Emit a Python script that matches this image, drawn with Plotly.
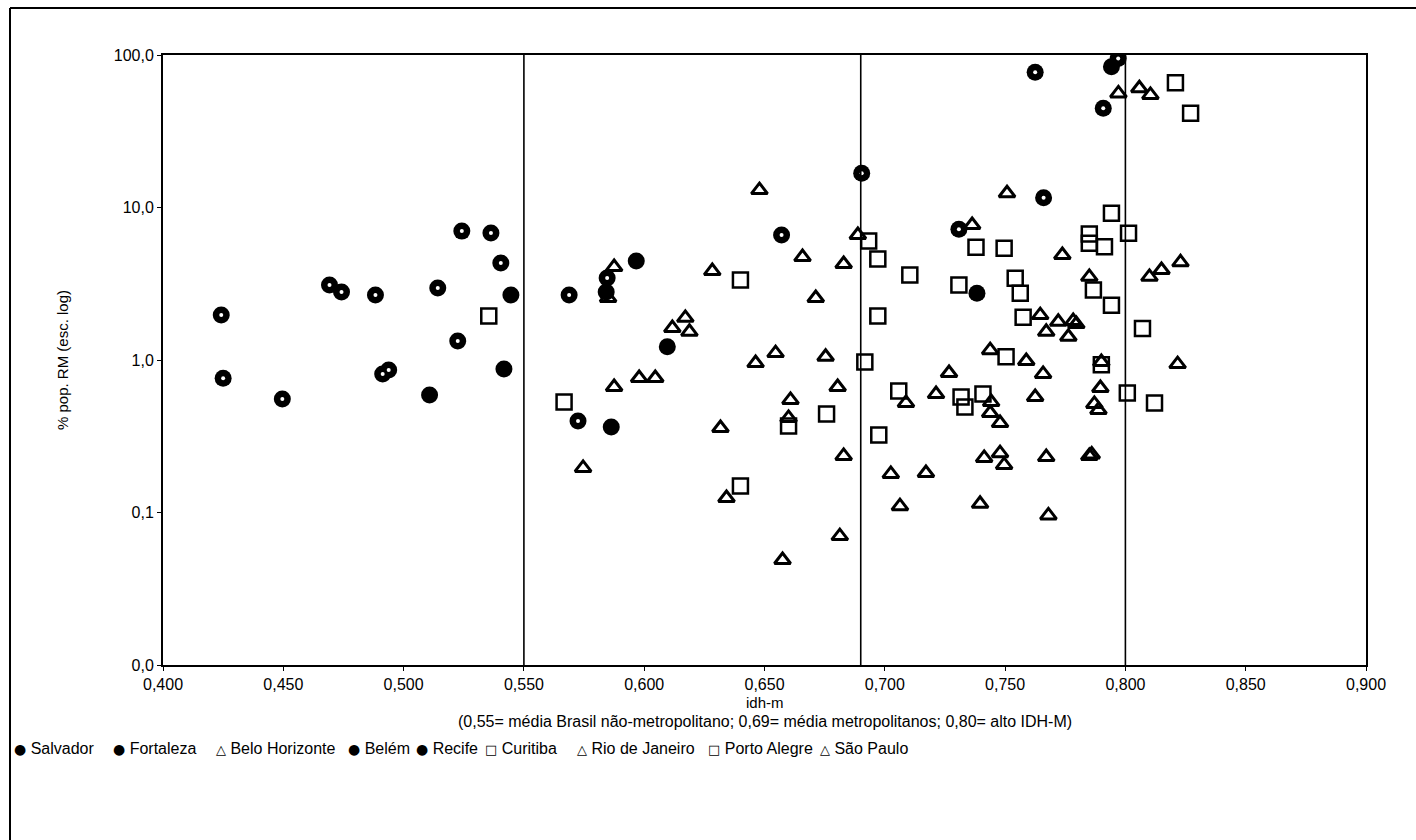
import plotly.graph_objects as go

# ---------------- data ----------------
salvador_x = [0.4242, 0.4692, 0.5142, 0.5242, 0.5688, 0.6571, 0.7660, 0.7970]
salvador_y = [1.97, 3.10, 2.97, 7.0, 2.67, 6.6, 11.6, 95]

fortaleza_x = [0.4250, 0.4496, 0.4742, 0.4883, 0.4913, 0.4938, 0.5225, 0.5363, 0.5404, 0.7625]
fortaleza_y = [0.76, 0.555, 2.79, 2.67, 0.81, 0.86, 1.33, 6.8, 4.33, 77]

belem_x = [0.5725, 0.5846, 0.6904, 0.7308, 0.7908]
belem_y = [0.398, 3.45, 16.8, 7.2, 44.8]

recife_x = [0.5108, 0.5417, 0.5446, 0.5842, 0.5863, 0.5967, 0.6096, 0.7383, 0.7942]
recife_y = [0.59, 0.873, 2.67, 2.79, 0.364, 4.46, 1.22, 2.74, 83.8]

bh_x = [0.5746, 0.5875, 0.6117, 0.6283, 0.6479, 0.6575, 0.6658, 0.6804, 0.6829, 0.7063,
        0.7213, 0.7396, 0.7442, 0.7479, 0.7588, 0.7671, 0.7721, 0.7783, 0.7850, 0.7896,
        0.8058, 0.8150]
bh_y = [0.196, 0.665, 1.62, 3.83, 13.0, 0.0488, 4.73, 0.665, 4.26, 0.110,
        0.598, 0.114, 0.53, 0.245, 0.985, 1.53, 1.78, 1.80, 0.235, 0.655,
        60.5, 3.89]

rio_x = [0.5875, 0.5979, 0.6171, 0.6317, 0.6463, 0.6608, 0.6713, 0.6829, 0.6888, 0.7088,
         0.7267, 0.7413, 0.7438, 0.7496, 0.7625, 0.7658, 0.7738, 0.7796, 0.7860, 0.7900,
         0.7971, 0.8229]
rio_y = [4.07, 0.762, 1.89, 0.358, 0.955, 0.547, 2.55, 0.235, 6.6, 0.523,
         0.822, 0.228, 0.449, 0.205, 0.572, 0.81, 4.88, 1.72, 0.24, 0.97,
         56, 4.37]

sp_x = [0.5850, 0.6046, 0.6188, 0.6342, 0.6546, 0.6600, 0.6754, 0.6813, 0.7025, 0.7171,
        0.7363, 0.7438, 0.7479, 0.7508, 0.7646, 0.7671, 0.7680, 0.7763, 0.7850, 0.7871,
        0.7888, 0.8104, 0.8100, 0.8217]
sp_y = [2.55, 0.762, 1.53, 0.1245, 1.11, 0.417, 1.05, 0.070, 0.179, 0.1815,
        7.68, 1.16, 0.386, 12.4, 1.97, 0.231, 0.0957, 1.42, 3.51, 0.515,
        0.47, 54.7, 3.51, 0.94]

curitiba_x = [0.5354, 0.6400, 0.6600, 0.6917, 0.6971, 0.6975, 0.7104, 0.7317, 0.7379, 0.7496,
              0.7542, 0.7575, 0.7850, 0.7913, 0.7942, 0.8008, 0.8121, 0.8208]
curitiba_y = [1.94, 0.149, 0.369, 0.97, 4.6, 0.322, 3.61, 0.572, 5.48, 5.4,
              3.43, 1.91, 6.7, 5.53, 2.29, 0.608, 0.523, 65.8]

poa_x = [0.5667, 0.6400, 0.6758, 0.6933, 0.6971, 0.7058, 0.7308, 0.7333, 0.7408, 0.7504,
         0.7563, 0.7850, 0.7867, 0.7942, 0.8013, 0.8071, 0.8271, 0.7900]
poa_y = [0.53, 3.35, 0.443, 6.03, 1.94, 0.626, 3.1, 0.492, 0.598, 1.05,
         2.74, 5.83, 2.88, 9.16, 6.78, 1.61, 41.5, 0.93]

ref_lines = [0.55, 0.69, 0.80]
x_ticks = [0.40, 0.45, 0.50, 0.55, 0.60, 0.65, 0.70, 0.75, 0.80, 0.85, 0.90]
x_ticktext = ["0,400", "0,450", "0,500", "0,550", "0,600", "0,650", "0,700", "0,750", "0,800", "0,850", "0,900"]
y_ticks = [0.01, 0.1, 1, 10, 100]
y_ticktext = ["0,0", "0,1", "1,0", "10,0", "100,0"]

legend_items = [("●", "Salvador"), ("●", "Fortaleza"), ("△", "Belo Horizonte"), ("●", "Belém"),
                ("●", "Recife"), ("□", "Curitiba"), ("△", "Rio de Janeiro"), ("□", "Porto Alegre"),
                ("△", "São Paulo")]
legend_px = [12, 111, 214, 346, 414, 483, 575, 706, 818]

# ---------------- figure ----------------
W, H = 1416, 840
L, R, T, B = 163, 50, 55, 175
pw, ph = W - L - R, H - T - B
FONT = "Liberation Sans, Arial, sans-serif"

def px2x(px):
    return (px - L) / pw

def py2y(py):
    return (H - B - py) / ph

fig = go.Figure()

ring_series = [("Salvador", salvador_x, salvador_y),
               ("Fortaleza", fortaleza_x, fortaleza_y),
               ("Belém", belem_x, belem_y)]
for name, xs, ys in ring_series:
    fig.add_trace(go.Scatter(x=xs, y=ys, mode="markers", name=name, legendgroup=name,
                             marker=dict(symbol="circle", size=17, color="black"),
                             showlegend=False))
    fig.add_trace(go.Scatter(x=xs, y=ys, mode="markers", name=name, legendgroup=name,
                             marker=dict(symbol="circle", size=4, color="white"),
                             showlegend=False, hoverinfo="skip"))

fig.add_trace(go.Scatter(x=recife_x, y=recife_y, mode="markers", name="Recife",
                         marker=dict(symbol="circle", size=17, color="black"), showlegend=False))

for name, xs, ys in [("Belo Horizonte", bh_x, bh_y), ("Rio de Janeiro", rio_x, rio_y),
                     ("São Paulo", sp_x, sp_y)]:
    fig.add_trace(go.Scatter(x=xs, y=ys, mode="markers", name=name,
                             marker=dict(symbol="triangle-up-open", size=14, color="black",
                                         line=dict(width=3, color="black")),
                             showlegend=False))

for name, xs, ys in [("Curitiba", curitiba_x, curitiba_y), ("Porto Alegre", poa_x, poa_y)]:
    fig.add_trace(go.Scatter(x=xs, y=ys, mode="markers", name=name,
                             marker=dict(symbol="square-open", size=15, color="black",
                                         line=dict(width=2.5, color="black")),
                             showlegend=False))

shapes = []
for v in ref_lines:
    shapes.append(dict(type="line", xref="x", yref="paper", x0=v, x1=v, y0=0, y1=1,
                       line=dict(color="black", width=1.6)))
# outer frame (top and left edges visible in the reference)
shapes.append(dict(type="line", xref="paper", yref="paper", x0=px2x(10), x1=px2x(1416),
                   y0=py2y(8), y1=py2y(8), line=dict(color="black", width=2)))
shapes.append(dict(type="line", xref="paper", yref="paper", x0=px2x(10), x1=px2x(10),
                   y0=py2y(8), y1=py2y(840), line=dict(color="black", width=2)))

annotations = [
    dict(text="% pop. RM (esc. log)", xref="paper", yref="paper", x=px2x(62), y=0.5,
         textangle=-90, showarrow=False, xanchor="center", yanchor="middle",
         font=dict(family=FONT, size=15, color="black")),
    dict(text="idh-m", xref="paper", yref="paper", x=px2x(765), y=py2y(702),
         showarrow=False, xanchor="center", yanchor="middle",
         font=dict(family=FONT, size=15, color="black")),
    dict(text="(0,55= média Brasil não-metropolitano; 0,69= média metropolitanos; 0,80= alto IDH-M)",
         xref="paper", yref="paper", x=px2x(765), y=py2y(721),
         showarrow=False, xanchor="center", yanchor="middle",
         font=dict(family=FONT, size=16, color="black")),
]
for (sym, name), lx in zip(legend_items, legend_px):
    if sym == "●":
        glyph = f"<span style='font-family:DejaVu Sans;font-size:14px'>{sym}</span>"
    else:
        glyph = f"<span style='font-family:DejaVu Sans;font-size:13px'>{sym}</span>"
    annotations.append(dict(
        text=f"{glyph} {name}",
        xref="paper", yref="paper", x=px2x(lx), y=py2y(748),
        showarrow=False, xanchor="left", yanchor="middle",
        font=dict(family=FONT, size=16, color="black")))

fig.update_layout(
    width=W, height=H,
    margin=dict(l=L, r=R, t=T, b=B, pad=0),
    paper_bgcolor="white", plot_bgcolor="white",
    font=dict(family=FONT, size=16, color="black"),
    showlegend=False,
    shapes=shapes, annotations=annotations,
)
fig.update_xaxes(range=[0.4, 0.9], tickvals=x_ticks, ticktext=x_ticktext,
                 showgrid=False, zeroline=False, showline=True, mirror=True,
                 linecolor="black", linewidth=2, ticks="outside", ticklen=4,
                 tickcolor="black", tickfont=dict(family=FONT, size=16, color="black"))
fig.update_yaxes(type="log", range=[-2, 2], tickvals=y_ticks, ticktext=y_ticktext,
                 showgrid=False, zeroline=False, showline=True, mirror=True,
                 linecolor="black", linewidth=2, ticks="outside", ticklen=4,
                 tickcolor="black", tickfont=dict(family=FONT, size=16, color="black"))

fig.write_html("out.html", config={"displayModeBar": False},
               post_script="document.body.style.margin='0px';document.body.style.overflow='hidden';")
